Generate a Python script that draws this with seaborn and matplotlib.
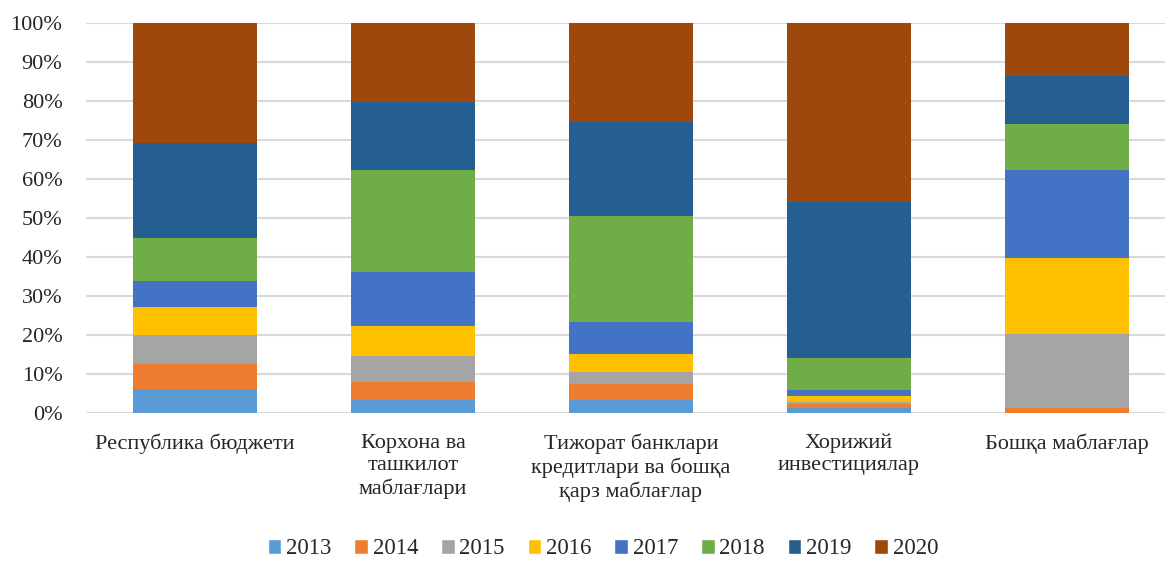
import numpy as np
import pandas as pd
import matplotlib
matplotlib.use("Agg")
import matplotlib.pyplot as plt
import seaborn as sns
from matplotlib.patches import Patch

# Data (shares, %)
sources = ["Республика бюджети",
           "Корхона ва\nташкилот\nмаблағлари",
           "Тижорат банклари\nкредитлари ва бошқа\nқарз маблағлар",
           "Хорижий\nинвестициялар",
           "Бошқа маблағлар"]
years = ["2013", "2014", "2015", "2016", "2017", "2018", "2019", "2020"]

y2013 = [6.0, 3.3, 3.3, 1.3, 0.0]
y2014 = [6.6, 4.6, 4.1, 1.0, 1.3]
y2015 = [7.2, 6.7, 3.1, 0.5, 19.0]
y2016 = [7.2, 7.7, 4.6, 1.6, 19.4]
y2017 = [6.7, 13.9, 8.2, 1.5, 22.6]
y2018 = [11.2, 26.0, 27.2, 8.2, 11.8]
y2019 = [24.2, 17.5, 24.1, 40.0, 12.3]
y2020 = [31.0, 20.3, 25.4, 45.9, 13.6]

colors = ["#5B9BD5", "#ED7D31", "#A5A5A5", "#FFC000",
          "#4472C4", "#70AD47", "#255E91", "#9E480E"]

series = [y2013, y2014, y2015, y2016, y2017, y2018, y2019, y2020]

sns.set_style("white")
plt.rcParams["font.family"] = ["Liberation Serif", "DejaVu Serif"]

fig = plt.figure(figsize=(11.65, 5.61), dpi=100)
ax = fig.add_axes([86 / 1165, (561 - 412.7) / 561, (1165 - 86) / 1165, 390 / 561])

# stacked bars, one seaborn call per year
bottom = np.zeros(len(sources))
for yr, vals, c in zip(years, series, colors):
    df = pd.DataFrame({"source": sources, "share": vals})
    sns.barplot(data=df, x="source", y="share", color=c, width=0.57,
                bottom=bottom, saturation=1, linewidth=0, ax=ax, zorder=3)
    bottom = bottom + np.array(vals)

ax.set_xlim(-0.5, 4.45)
ax.set_ylim(0, 100)
ax.set_yticks(np.arange(0, 101, 10))
ax.set_yticklabels([f"{v}%" for v in range(0, 101, 10)], fontsize=16)
ax.yaxis.grid(True, color="#D9D9D9", linewidth=1.5, zorder=0)
ax.tick_params(axis="y", length=0, pad=17)
ax.tick_params(axis="x", length=0, pad=15)
for lbl in ax.get_xticklabels():
    lbl.set_fontsize(16)
    lbl.set_linespacing(1.23)
    lbl.set_verticalalignment("top")
ax.set_xlabel("")
ax.set_ylabel("")
for s in ax.spines.values():
    s.set_visible(False)

handles = [Patch(facecolor=c, label=y) for y, c in zip(years, colors)]
fig.legend(handles=handles, loc="center", ncol=8, frameon=False,
           bbox_to_anchor=(603 / 1165, 1 - 549 / 561), fontsize=16.5,
           handlelength=0.6, handleheight=0.6, handletextpad=0.2,
           columnspacing=1.0)

fig.savefig("out.png", dpi=100)
